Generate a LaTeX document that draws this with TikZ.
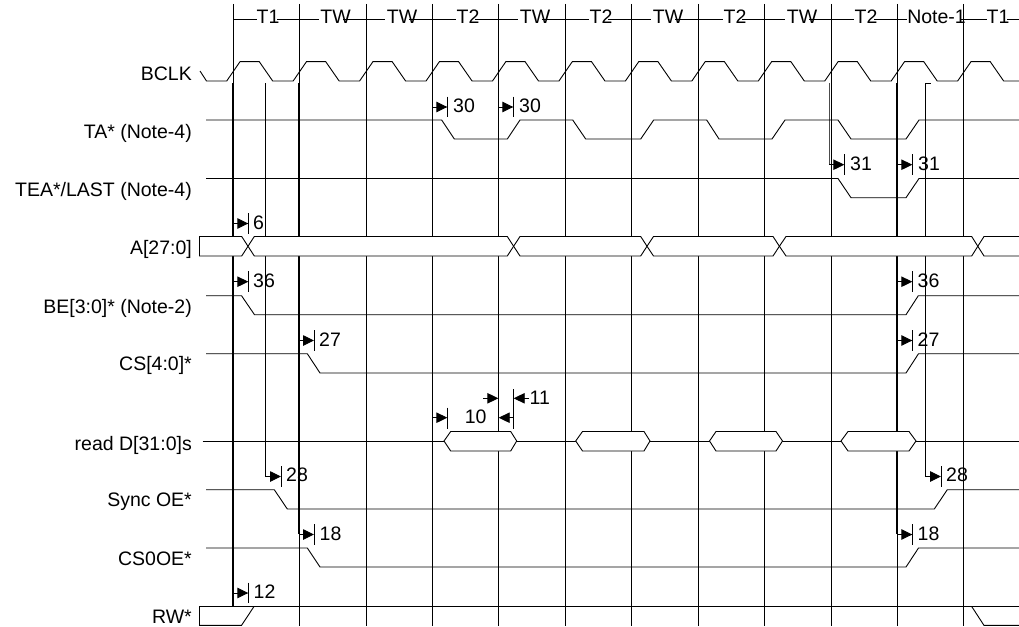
\documentclass[tikz,border=0pt]{standalone}
\usepackage{fontspec}
\setmainfont{Liberation Sans}
\usetikzlibrary{arrows.meta}
\tikzset{
  wire/.style={line width=0.9pt,line join=miter,black},
  gridline/.style={line width=0.85pt,black},
  overlay/.style={line width=1pt,black},
  heavy/.style={line width=1.5pt,black},
  bus/.style={line width=0.9pt,fill=white,draw=black},
  tick/.style={line width=0.9pt,black},
  sig/.style={anchor=base east,inner sep=0pt,font=\fontsize{19.5}{22}\selectfont},
  num/.style={anchor=base west,inner sep=0pt,font=\fontsize{19.5}{22}\selectfont},
  cyc/.style={anchor=base,inner sep=0pt,font=\fontsize{19.5}{22}\selectfont},
  tarrow/.style={line width=0.9pt,black,-{Triangle[length=11pt,width=10.5pt]}}
}
% name, start x, tick x, y, label x, label baseline, label
\newcommand{\tmark}[7]{%
  \coordinate (#1a) at (#2,#4);
  \coordinate (#1b) at (#3,#4);
  \draw[tarrow] (#1a) -- (#1b);
  \draw[tick] (#3,#4-10.3) -- (#3,#4+10.3);
  \node[num] (#1t) at (#5,#6) {#7};
}
\begin{document}
\begin{tikzpicture}[x=1pt,y=-1pt]
\useasboundingbox (0,0) rectangle (1019,626);
% cycle grid
\foreach \gx in {233,299.5,366,432,498.5,565,631.5,698,764.5,831,897.5,963.5}
  \draw[gridline] (\gx,4) -- (\gx,626);
% sampling edges
\draw[overlay] (232.7,83) -- (232.7,606);
\draw[heavy] (299,83) -- (299,534);
\draw[heavy] (897.2,83) -- (897.2,534);
\draw[gridline] (265.7,83) -- (265.7,476.5);
\draw[gridline] (930.7,83) -- (925.7,83) -- (925.7,476.5);
\draw[line width=1.2pt,black!70] (829.4,83) -- (829.4,164);
% cycle ruler
\draw[wire] (233,19.5)--(257,19.5) (277,19.5)--(319,19.5) (343,19.5)--(385,19.5)
  (409,19.5)--(456,19.5) (475,19.5)--(518,19.5) (542,19.5)--(589,19.5)
  (608,19.5)--(651,19.5) (675,19.5)--(723,19.5) (742,19.5)--(785,19.5)
  (809,19.5)--(854,19.5) (874,19.5)--(907,19.5) (960,19.5)--(987,19.5) (1007,19.5)--(1019,19.5);
\node[cyc] (c1) at (268,24) {T1};
\node[cyc] (c2) at (335.5,24) {TW};
\node[cyc] (c3) at (402,24) {TW};
\node[cyc] (c4) at (468,24) {T2};
\node[cyc] (c5) at (535,24) {TW};
\node[cyc] (c6) at (601,24) {T2};
\node[cyc] (c7) at (668,24) {TW};
\node[cyc] (c8) at (735,24) {T2};
\node[cyc] (c9) at (802,24) {TW};
\node[cyc] (c10) at (866,24) {T2};
\node[cyc] (c11) at (936.5,24) {Note-1};
\node[cyc] (c12) at (998,24) {T1};
% clock
\draw[wire] (200,71) -- (206.5,81)
  foreach \k in {0,...,11} { -- ({226.7+66.45*\k},81) -- ({240+66.45*\k},61.7) -- ({259.3+66.45*\k},61.7) -- ({272.7+66.45*\k},81) }
  -- (1019,81);
% TA
\draw[wire] (206,120) -- (441.7,120) -- (454.3,139) -- (507.3,139) -- (520,120) -- (572.7,120) -- (585.7,139)
  -- (640.7,139) -- (653.7,120) -- (706.7,120) -- (719,139) -- (772,139) -- (785,120) -- (838,120) -- (851,139)
  -- (906,139) -- (919,120) -- (1019,120);
% TEA
\draw[wire] (206,178.5) -- (838,178.5) -- (851,197.7) -- (906,197.7) -- (919,178.5) -- (1019,178.5);
% A bus
\filldraw[bus] (199.5,236.5) -- (241.7,236.5) -- (248,246.25) -- (241.7,256) -- (199.5,256) -- cycle;
\filldraw[bus] (248,246.25) -- (254.3,236.5) -- (507.3,236.5) -- (513.6,246.25) -- (507.3,256) -- (254.3,256) -- cycle;
\filldraw[bus] (513.6,246.25) -- (520,236.5) -- (640.7,236.5) -- (647,246.25) -- (640.7,256) -- (520,256) -- cycle;
\filldraw[bus] (647,246.25) -- (653.5,236.5) -- (773,236.5) -- (779.4,246.25) -- (773,256) -- (653.5,256) -- cycle;
\filldraw[bus] (779.4,246.25) -- (786,236.5) -- (971.7,236.5) -- (977.8,246.25) -- (971.7,256) -- (786,256) -- cycle;
\filldraw[bus] (1019,236.5) -- (984,236.5) -- (977.8,246.25) -- (984,256) -- (1019,256);
% BE
\draw[wire] (206,295.7) -- (241.5,295.7) -- (254.5,314.7) -- (906,314.7) -- (918.3,295.7) -- (1019,295.7);
% CS
\draw[wire] (206,353.7) -- (307.3,353.7) -- (320,373) -- (906,373) -- (918.5,353.7) -- (1019,353.7);
% read data
\draw[wire] (202.7,441) -- (1019,441);
\filldraw[bus] (444,441) -- (450.7,431.5) -- (510.7,431.5) -- (516.7,441) -- (510.7,451) -- (450.7,451) -- cycle;
\filldraw[bus] (575.7,441) -- (582.5,431.5) -- (644,431.5) -- (650,441) -- (644,451) -- (582.5,451) -- cycle;
\filldraw[bus] (709.5,441) -- (716,431.5) -- (776,431.5) -- (782.5,441) -- (776,451) -- (716,451) -- cycle;
\filldraw[bus] (841,441) -- (848,431.5) -- (909,431.5) -- (916,441) -- (909,451) -- (848,451) -- cycle;
% Sync OE
\draw[wire] (206,489.7) -- (274.3,489.7) -- (287.3,509) -- (934.3,509) -- (947.3,489.7) -- (1019,489.7);
% CS0OE
\draw[wire] (206,548) -- (307.3,548) -- (320,567) -- (906,567) -- (918.5,548) -- (1019,548);
% RW
\filldraw[bus,draw=none] (254,606.5) -- (199.5,606.5) -- (199.5,625.4) -- (241.5,625.4) -- cycle;
\draw[wire] (254,606.5) -- (241.5,625.4) -- (199.5,625.4) -- (199.5,606.5) -- (971.7,606.5) -- (984,625.4) -- (1019,625.4);
\draw[wire] (971.7,606.5) -- (1019,606.5);
% signal names
\node[sig] (sBCLK) at (192,80) {BCLK};
\node[sig] (sTA) at (192,138.5) {TA* (Note-4)};
\node[sig] (sTEA) at (192,196.7) {TEA*/LAST (Note-4)};
\node[sig] (sA) at (192,254) {A[27:0]};
\node[sig] (sBE) at (192,313) {BE[3:0]* (Note-2)};
\node[sig] (sCS) at (192,370.7) {CS[4:0]*};
\node[sig] (sD) at (192,450) {read D[31:0]s};
\node[sig] (sOE) at (192,506.7) {Sync OE*};
\node[sig] (sCSO) at (192,565) {CS0OE*};
\node[sig] (sRW) at (192,623) {RW*};
% timing marks
\tmark{m6}{232.7}{248.3}{223.5}{253}{229}{6}
\tmark{m36a}{232.7}{248.3}{281.7}{253}{287.3}{36}
\tmark{m27a}{299}{314}{340.5}{319}{346}{27}
\tmark{m12}{232.7}{248.3}{593}{253.5}{598.3}{12}
\tmark{m18a}{299}{314}{534.5}{319.5}{540}{18}
\tmark{m28a}{265.7}{281}{476.5}{286}{481.7}{28}
\tmark{m30a}{432}{447.3}{107}{453}{112.3}{30}
\tmark{m30b}{498.5}{513.3}{107}{519}{112.3}{30}
\tmark{m31a}{829.4}{844.3}{164.7}{850}{170.7}{31}
\tmark{m31b}{897.2}{912.3}{164.7}{918}{170.7}{31}
\tmark{m36b}{897.2}{912.3}{281.7}{917.5}{287.3}{36}
\tmark{m27b}{897.2}{912.3}{340.5}{917.5}{346}{27}
\tmark{m28b}{925.7}{941}{476.5}{946}{481.7}{28}
\tmark{m18b}{897.2}{912.3}{534.5}{917.5}{540}{18}
% data setup / hold marks
\coordinate (t10a) at (432,417.7);
\coordinate (t10b) at (447.3,417.7);
\draw[tarrow] (t10a) -- (t10b);
\draw[tick] (447.3,407.7) -- (447.3,429);
\coordinate (t10c) at (513.3,417.7);
\coordinate (t10d) at (498.7,417.7);
\draw[tarrow] (t10c) -- (t10d);
\draw[tick] (513.3,389) -- (513.3,429);
\coordinate (t11a) at (483.3,398.3);
\coordinate (t11b) at (498.3,398.3);
\draw[tarrow] (t11a) -- (t11b);
\coordinate (t11c) at (529,398.3);
\coordinate (t11d) at (513.7,398.3);
\draw[tarrow] (t11c) -- (t11d);
\node[cyc] (n10) at (475.7,423.3) {10};
\node[num] (n11) at (529.5,404) {11};
\end{tikzpicture}
\end{document}
